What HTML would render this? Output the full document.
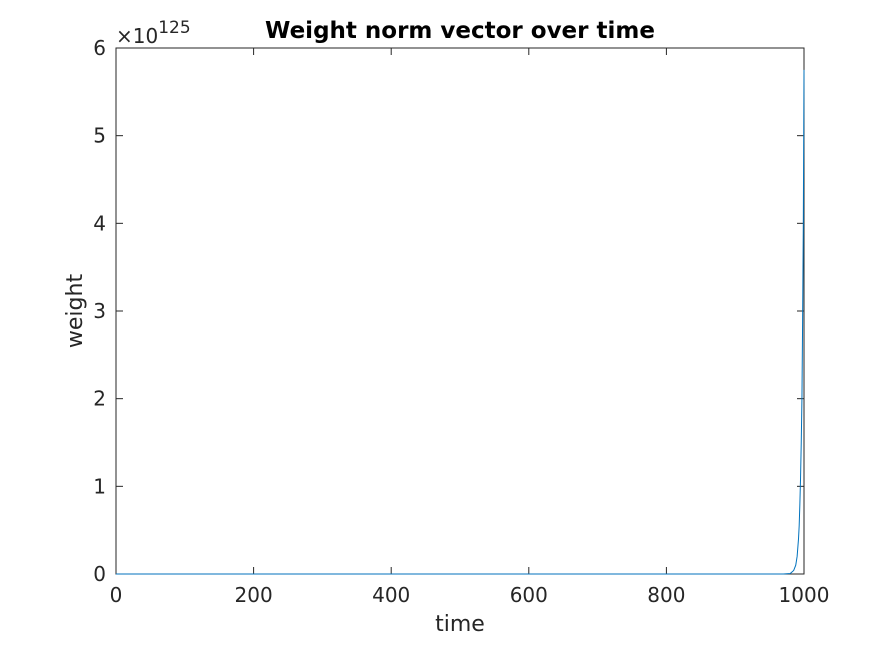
<!DOCTYPE html>
<html><head><meta charset="utf-8"><style>
body{margin:0;background:#fff;}
svg{display:block;font-family:"DejaVu Sans","Liberation Sans",sans-serif;}
</style></head><body>
<svg id="chart" width="890" height="645" viewBox="0 0 890 645">
<rect x="0" y="0" width="890" height="645" fill="#fff"/>
<rect x="116" y="48" width="688" height="526" fill="#fff" stroke="#262626" stroke-width="1"/>
<g id="ticks"></g>
<path id="line" fill="none" stroke="#0072BD" stroke-width="1"/>
<text x="460" y="38" text-anchor="middle" font-size="23" font-weight="bold" fill="#000">Weight norm vector over time</text>
<text x="460" y="631" text-anchor="middle" font-size="22" fill="#262626">time</text>
<text x="82" y="311" text-anchor="middle" font-size="22" fill="#262626" transform="rotate(-90 82 311)">weight</text>
<text x="116" y="43" font-size="20" fill="#262626">×10<tspan dy="-10" font-size="17">125</tspan></text>
</svg>
<script>
const xTicks=[0,200,400,600,800,1000];
const yTicks=[0,1,2,3,4,5,6];
const times=[0,500,970,980,985,988,990,992,993,994,995,996,997,998,999,1000];
const values=[0,0,0,0.005,0.04,0.1,0.2,0.4,0.55,0.8,1.1,1.5,2.0,2.9,4.0,5.75];
const X0=116,X1=804,Y0=574,Y1=48;
const xs=v=>X0+(v-0)/(1000-0)*(X1-X0);
const ys=v=>Y0-(v-0)/(6-0)*(Y0-Y1);
const NS="http://www.w3.org/2000/svg";
const g=document.getElementById('ticks');
function mk(t,a){const e=document.createElementNS(NS,t);for(const k in a)e.setAttribute(k,a[k]);return e;}
xTicks.forEach(v=>{
 const x=xs(v);
 const l=mk('line',{x1:x,x2:x,y1:Y0,y2:Y0-7,stroke:'#262626'});
 
 
 g.appendChild(l);
 const l2=mk('line',{x1:x,x2:x,y1:Y1,y2:Y1+7,stroke:'#262626'});
 
 
 g.appendChild(l2);
 const t=mk('text',{x:x,y:Y0+28,'text-anchor':'middle','font-size':'20',fill:'#262626'});
 t.textContent=v;
 
 
 g.appendChild(t);
});
yTicks.forEach(v=>{
 const y=ys(v);
 const l=mk('line',{x1:X0,x2:X0+7,y1:y,y2:y,stroke:'#262626'});
 
 
 g.appendChild(l);
 const l2=mk('line',{x1:X1,x2:X1-7,y1:y,y2:y,stroke:'#262626'});
 
 
 g.appendChild(l2);
 const t=mk('text',{x:X0-10,y:y+7,'text-anchor':'end','font-size':'20',fill:'#262626'});
 t.textContent=v;
 
 
 g.appendChild(t);
});
document.getElementById('line').setAttribute('d',times.map((t,i)=>(i?'L':'M')+xs(t).toFixed(2)+' '+ys(values[i]).toFixed(2)).join(' '));
</script>
</body></html>
